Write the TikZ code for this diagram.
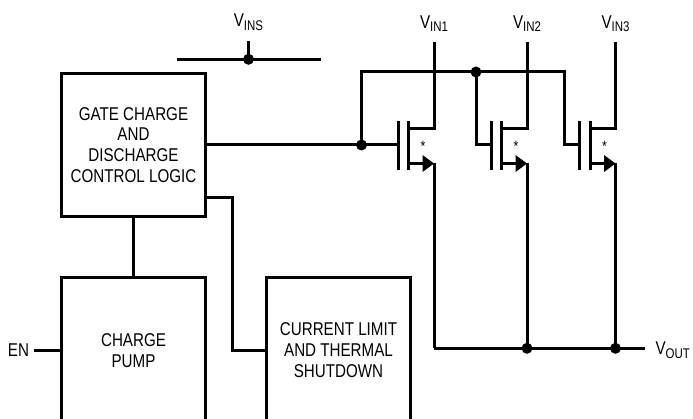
\documentclass[tikz,border=0pt]{standalone}
\usepackage{fontspec}
\setmainfont{Liberation Sans}[FakeStretch=0.82]
\usetikzlibrary{positioning}
\newcommand{\vsub}[1]{\raisebox{-3.5pt}{\fontsize{14}{14}\selectfont #1}}

\begin{document}
\begin{tikzpicture}[x=1pt,y=-1pt,line width=3pt,
  boite/.style = {draw,line width=3pt,align=center,inner sep=0pt,font=\fontsize{18.5}{20.9}\selectfont},
  etiq/.style = {inner sep=0pt,font=\fontsize{18.5}{20.9}\selectfont}
  ]
\useasboundingbox (0,0) rectangle (693,419);
\node[boite,minimum width=144.5,minimum height=143.5] (logic) at (133.5,145) {GATE CHARGE\\AND\\DISCHARGE\\CONTROL LOGIC};
\node[boite,minimum width=144.5,minimum height=146] (pump) at (133.5,350.5) {CHARGE\\PUMP};
\node[boite,minimum width=144.5,minimum height=146] (limit) at (338.5,350.5) {CURRENT LIMIT\\AND THERMAL\\SHUTDOWN};

\coordinate (split) at (361.5,145);
\coordinate (bus) at (476,72);
\coordinate (vout) at (645,348.3);
\coordinate (ins) at (248.5,59.3);
\coordinate (en) at (34.3,350.5);

\foreach \i/\g in {1/398,2/491,3/579.5}{
  \coordinate (gate\i) at (\g,145);
  \coordinate (source\i) at (\g+36,163.5);
  \draw[line cap=butt] (\g,121) -- (\g,170);
  \draw[line cap=butt] (\g+10.5,121) -- (\g+10.5,170);
  \draw (\g+10.5,128.5) -| (\g+36,42.5);
  \node[etiq,anchor=base] at (\g+36,28.5) {V\vsub{IN\i}};
  \draw (\g+10.5,163.5) -- (\g+25,163.5);
  \fill (\g+24.5,155) -- (source\i) -- (\g+24.5,172) -- cycle;
  \draw (source\i) -- (source\i |- vout);
  \node[inner sep=0pt,font=\fontsize{15}{15}\selectfont] at (\g+25,146) {*};
}

\draw (logic.east) -- (gate1);
\draw (split) |- (564,72) |- (gate3);
\draw (bus) |- (gate2);
\fill (split) circle (5.5pt);
\fill (bus) circle (5.5pt);

\draw (176.7,59.3) -- (321,59.3);
\draw (ins) -- (248.5,40.7);
\fill (ins) circle (5.5pt);
\node[etiq,anchor=base] at (ins |- 0,26.7) {V\vsub{INS}};

\draw (logic.south) -- (pump.north);
\draw ([yshift=20.5pt]logic.south east) -| ([xshift=-32pt]limit.west) -- (limit.west);

\draw (source1 |- vout) -- (vout);
\fill (source2 |- vout) circle (5.5pt);
\fill (source3 |- vout) circle (5.5pt);
\node[etiq,anchor=base west] at (654,355) {V\vsub{OUT}};

\draw (en) -- (pump.west);
\node[etiq,anchor=base east] at (30.5,356.7) {EN};
\end{tikzpicture}
\end{document}
